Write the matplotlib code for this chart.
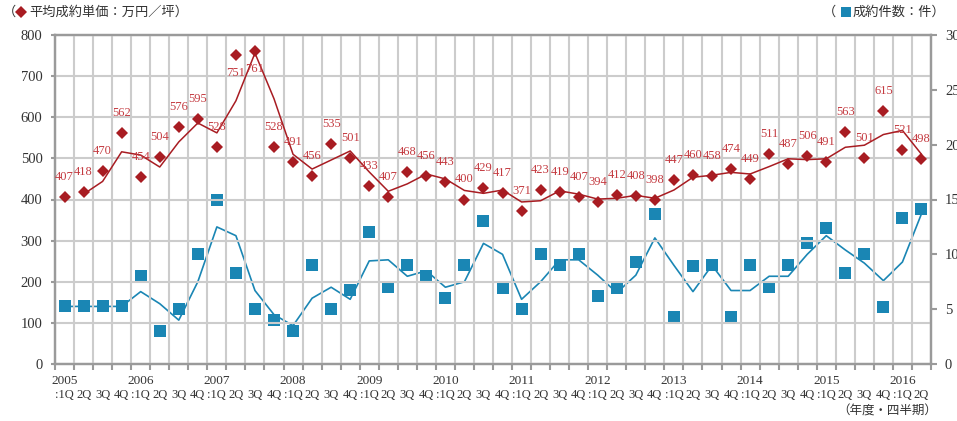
import matplotlib.pyplot as plt
from matplotlib.lines import Line2D

plt.rcParams['font.family'] = ['Liberation Serif', 'Noto Sans CJK JP', 'DejaVu Sans']

years = list(range(2005, 2017))
quarters = [':1Q', '2Q', '3Q', '4Q']

# 平均成約単価（万円／坪）
price = [407, 418, 470, 562,
         454, 504, 576, 595,
         528, 751, 761, 528,
         491, 456, 535, 501,
         433, 407, 468, 456,
         443, 400, 429, 417,
         371, 423, 419, 407,
         394, 412, 408, 398,
         447, 460, 458, 474,
         449, 511, 487, 506,
         491, 563, 501, 615,
         521, 498]

# 単価の推移線（2005 2Qから）
price_line = [None, 413, 444, 516,
              508, 479, 540, 586,
              562, 640, 756, 645,
              510, 474, 496, 518,
              467, 420, 438, 462,
              450, 422, 415, 423,
              394, 397, 421, 413,
              401, 403, 410, 403,
              423, 454, 459, 466,
              462, 480, 499, 497,
              499, 527, 532, 558,
              568, 510]

# 成約件数（件）
count = [5.25, 5.25, 5.25, 5.25,
         8.0, 3.0, 5.0, 10.0,
         15.0, 8.33, 5.0, 4.0,
         3.0, 9.0, 5.0, 6.75,
         12.0, 7.0, 9.0, 8.0,
         6.0, 9.0, 13.0, 6.9,
         5.0, 10.0, 9.0, 10.0,
         6.2, 6.9, 9.3, 13.7,
         4.33, 8.9, 9.0, 4.33,
         9.0, 7.0, 9.0, 11.0,
         12.4, 8.3, 10.0, 5.2,
         13.3, 14.1]

count_line = [5.25, 5.25, 5.25, 5.25,
              6.6, 5.5, 4.0, 7.5,
              12.5, 11.7, 6.7, 4.5,
              3.5, 6.0, 7.0, 5.9,
              9.4, 9.5, 8.0, 8.5,
              7.0, 7.5, 11.0, 10.0,
              5.9, 7.5, 9.5, 9.5,
              8.1, 6.5, 8.1, 11.5,
              9.0, 6.6, 9.0, 6.7,
              6.7, 8.0, 8.0, 10.0,
              11.7, 10.4, 9.2, 7.6,
              9.3, 13.7]

below = {9, 10}  # 値ラベルをマーカーの下に置く点

red = '#a81c22'
red_txt = '#c43a40'
blue = '#1a86b4'
grid_c = '#cccccc'
spine_c = '#9a9a9a'
txt_c = '#333333'

n = len(price)
x = list(range(n))

fig = plt.figure(figsize=(9.57, 4.21), dpi=100)
ax = fig.add_axes([55 / 957, 57 / 421, 876 / 957, 329 / 421])
ax2 = ax.twinx()

ax.set_xlim(-0.5, n - 0.5)
ax.set_ylim(0, 800)
ax2.set_ylim(0, 30)

# グリッド（四半期の区切りと100万円ごと）
ax.set_xticks([i - 0.5 for i in range(n + 1)], minor=True)
ax.set_xticks([])
ax.set_yticks(range(0, 801, 100))
ax2.set_yticks(range(0, 31, 5))
ax.grid(True, which='minor', axis='x', color=grid_c, lw=1.5)
ax.grid(True, which='major', axis='y', color=grid_c, lw=1.5)
ax.set_axisbelow(True)
ax.tick_params(axis='x', which='minor', length=4, width=1.5, color=spine_c)
ax.tick_params(axis='y', length=3, width=1.5, color=spine_c, pad=6,
               labelsize=10.5, labelcolor=txt_c)
ax2.tick_params(axis='y', length=4, width=1.5, color=spine_c, pad=6,
                labelsize=10.5, labelcolor=txt_c)
for a in (ax, ax2):
    for s in a.spines.values():
        s.set_color(spine_c)
        s.set_linewidth(1.6)

# 件数（右軸）
ax2.plot(x, count_line, color=blue, lw=1.2, zorder=2)
ax2.plot(x, count, 's', color=blue, ms=8, mew=0, zorder=3)

# 単価（左軸）を件数の上に重ねる
ax.set_zorder(ax2.get_zorder() + 1)
ax.patch.set_visible(False)
ax2.patch.set_visible(True)
ax2.grid(False)

px = [i for i in x if price_line[i] is not None]
py = [price_line[i] for i in px]
ax.plot(px, py, color=red, lw=1.1, zorder=2)
ax.plot(x, price, 'D', color=red, ms=6.5, mew=0, zorder=3)
for i, v in enumerate(price):
    if i in below:
        ax.annotate(str(v), (i, v), xytext=(0, -12), textcoords='offset pixels',
                    ha='center', va='top', fontsize=9, color=red_txt, zorder=4)
    else:
        ax.annotate(str(v), (i, v), xytext=(0, 14), textcoords='offset pixels',
                    ha='center', va='bottom', fontsize=9, color=red_txt, zorder=4)

# 横軸ラベル（年・四半期）
xt = ax.get_xaxis_transform()
for i in x:
    if i % 4 == 0:
        ax.text(i, -0.052, str(years[i // 4]), transform=xt, ha='center',
                va='center', fontsize=9.5, color=txt_c)
    ax.text(i, -0.094, quarters[i % 4], transform=xt, ha='center',
            va='center', fontsize=9, color=txt_c)
fig.text(937 / 957, 1 - 411 / 421, '（年度・四半期）', ha='right', va='center',
         fontsize=9, color=txt_c, family=['Noto Sans CJK JP'])

# 凡例の見出し
hy = 1 - 12 / 421
fig.text(3 / 957, hy, '（', ha='left', va='center', fontsize=9.5,
         color=txt_c, family=['Noto Sans CJK JP'])
fig.add_artist(Line2D([21 / 957], [hy], marker='D', color=red, ms=6, mew=0,
                      transform=fig.transFigure))
fig.text(29 / 957, hy, '平均成約単価：万円／坪）', ha='left', va='center',
         fontsize=9.5, color=txt_c, family=['Noto Sans CJK JP'])
fig.text(823 / 957, hy, '（', ha='left', va='center', fontsize=9.5,
         color=txt_c, family=['Noto Sans CJK JP'])
fig.add_artist(Line2D([846 / 957], [hy], marker='s', color=blue, ms=7.5, mew=0,
                      transform=fig.transFigure))
fig.text(853 / 957, hy, '成約件数：件）', ha='left', va='center',
         fontsize=9.5, color=txt_c, family=['Noto Sans CJK JP'])

fig.savefig('out.png', dpi=100)
